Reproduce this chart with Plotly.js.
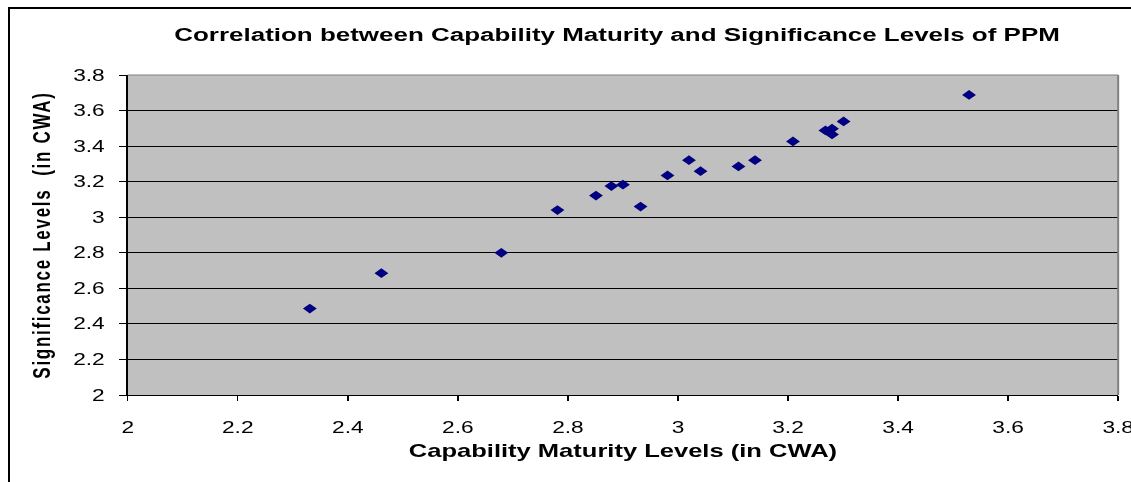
<!DOCTYPE html>
<html>
<head>
<meta charset="utf-8">
<script src="https://cdn.plot.ly/plotly-3.0.1.min.js"></script>
<style>
  html, body { margin: 0; padding: 0; background: #fff; }
  #wrap { position: relative; width: 1131px; height: 482px; overflow: hidden; background: #fff; }
  #frame { position: absolute; left: 8px; top: 7px; width: 1200px; height: 600px; border: 2px solid #000; box-sizing: border-box; pointer-events: none; }
  /* the reference is an Excel chart stretched horizontally; reproduce by scaling the plot div */
  #chart { position: absolute; left: 0; top: 0; width: 797px; height: 482px; transform: scale(1.419, 1); transform-origin: 0 0; }
  #chart svg { overflow: visible; }
  #chart .ytitle { letter-spacing: 1.7px; }
</style>
</head>
<body>
<div id="wrap">
  <div id="frame"></div>
  <div id="chart"></div>
</div>
<script>
const capabilityMaturity = [2.331, 2.461, 2.679, 2.781, 2.851, 2.879, 2.900, 2.932, 2.981, 3.020, 3.041, 3.110, 3.140, 3.209, 3.268, 3.280, 3.280, 3.301, 3.529];
const significance      = [2.486, 2.685, 2.800, 3.040, 3.122, 3.175, 3.183, 3.060, 3.235, 3.321, 3.259, 3.286, 3.321, 3.426, 3.488, 3.498, 3.466, 3.539, 3.688];
const xTicks = [2, 2.2, 2.4, 2.6, 2.8, 3, 3.2, 3.4, 3.6, 3.8];
const yTicks = [2, 2.2, 2.4, 2.6, 2.8, 3, 3.2, 3.4, 3.6, 3.8];

const font = 'Arial, "Liberation Sans", sans-serif';

const trace = {
  type: 'scatter',
  mode: 'markers',
  x: capabilityMaturity,
  y: significance,
  marker: { symbol: 'diamond', size: 7.5, color: '#000080', line: { width: 0 } },
  hoverinfo: 'x+y'
};

const layout = {
  width: 797,
  height: 482,
  paper_bgcolor: 'rgba(0,0,0,0)',
  plot_bgcolor: '#C0C0C0',
  margin: { l: 89.5, r: 9.1, t: 75, b: 87 },
  showlegend: false,
  title: {
    text: '<b>Correlation between Capability Maturity and Significance Levels of PPM</b>',
    font: { family: font, size: 18.3, color: '#000' },
    x: 0.5456, xanchor: 'center', xref: 'container',
    y: 1 - 35/482, yanchor: 'middle'
  },
  xaxis: {
    range: [2, 3.8],
    tickvals: xTicks,
    ticktext: xTicks.map(String),
    showgrid: false,
    zeroline: false,
    showline: true, linecolor: '#000', linewidth: 1,
    ticks: 'outside', ticklen: 5, tickcolor: '#000', tickwidth: 1,
    ticklabelstandoff: 13,
    ticklabeloverflow: 'allow',
    tickfont: { family: font, size: 16, color: '#000' },
    title: { text: '<b>Capability Maturity Levels (in CWA)</b>', font: { family: font, size: 18, color: '#000' }, standoff: 9 },
    fixedrange: true
  },
  yaxis: {
    range: [2, 3.8],
    tickvals: yTicks,
    ticktext: yTicks.map(String),
    showgrid: true, gridcolor: '#000', gridwidth: 1,
    zeroline: false,
    showline: true, linecolor: '#000', linewidth: 1,
    ticks: 'outside', ticklen: 5, tickcolor: '#000', tickwidth: 1,
    ticklabelstandoff: 7,
    tickfont: { family: font, size: 16, color: '#000' },
    title: { text: '<b>Significance Levels  (in CWA)</b>', font: { family: font, size: 17, color: '#000' }, standoff: 11 },
    fixedrange: true
  },
  shapes: [
    { type: 'line', xref: 'paper', yref: 'paper', x0: 0, x1: 1, y0: 1, y1: 1, line: { color: '#808080', width: 1 }, layer: 'above' },
    { type: 'line', xref: 'paper', yref: 'paper', x0: 1, x1: 1, y0: 0, y1: 1, line: { color: '#808080', width: 1.4 }, layer: 'above' }
  ]
};

Plotly.newPlot('chart', [trace], layout, { displayModeBar: false, staticPlot: true });
</script>
</body>
</html>
